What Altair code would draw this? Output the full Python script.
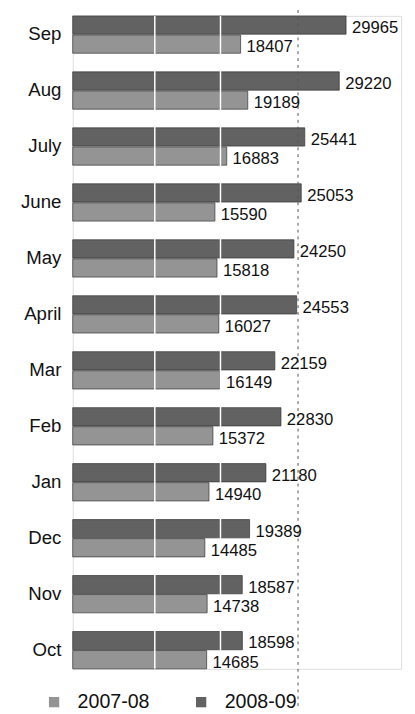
import altair as alt
import pandas as pd

months = ["Sep", "Aug", "July", "June", "May", "April", "Mar", "Feb", "Jan", "Dec", "Nov", "Oct"]
v0708 = [18407, 19189, 16883, 15590, 15818, 16027, 16149, 15372, 14940, 14485, 14738, 14685]
v0809 = [29965, 29220, 25441, 25053, 24250, 24553, 22159, 22830, 21180, 19389, 18587, 18598]
series = ["2007-08", "2008-09"]
white_grid = [9000, 16200]
dash_grid = [24700]

rows = []
for m, a, b in zip(months, v0708, v0809):
    rows.append({"month": m, "series": series[0], "value": a})
    rows.append({"month": m, "series": series[1], "value": b})
df = pd.DataFrame(rows)

FONT = "Liberation Sans"
H = 666

y_enc = alt.Y("month:N", sort=months,
              scale=alt.Scale(paddingInner=0.333, paddingOuter=0),
              axis=alt.Axis(title=None, domain=False, ticks=False, labelFontSize=19,
                            labelPadding=12, labelColor="#111", labelFont=FONT))
yoff = alt.YOffset("series:N", sort=["2008-09", "2007-08"],
                   scale=alt.Scale(paddingInner=0.04, paddingOuter=0))
x_enc = alt.X("value:Q", scale=alt.Scale(domain=[0, 36000]), axis=None)

base = alt.Chart(df)
bars = base.mark_bar(stroke="#333", strokeWidth=0.7).encode(
    y=y_enc, yOffset=yoff, x=x_enc,
    color=alt.Color("series:N",
                    scale=alt.Scale(domain=series, range=["#949494", "#626262"]),
                    legend=alt.Legend(title=None, orient="none", legendX=-29, legendY=690,
                                      direction="horizontal", symbolType="square",
                                      symbolSize=110, symbolStrokeWidth=0,
                                      labelFontSize=20, labelFont=FONT, labelColor="#111",
                                      labelOffset=14, columnPadding=42)),
)
labels = base.mark_text(align="left", baseline="middle", dx=6, dy=3,
                        fontSize=17, font=FONT, color="#111").encode(
    y=y_enc, yOffset=yoff, x=x_enc, text=alt.Text("value:Q", format="d"))

wg = alt.Chart(pd.DataFrame({"g": white_grid})).mark_rule(color="white", strokeWidth=1.5).encode(
    x=alt.X("g:Q", scale=alt.Scale(domain=[0, 36000]), axis=None))
dg = alt.Chart(pd.DataFrame({"g": dash_grid})).mark_rule(
    color="#555", strokeWidth=1, strokeDash=[3, 4]).encode(
    x=alt.X("g:Q", scale=alt.Scale(domain=[0, 36000]), axis=None),
    y=alt.value(-6), y2=alt.value(H + 42))

chart = alt.layer(bars, wg, dg, labels).properties(
    width=335, height=H,
    padding={"left": 66, "top": 1, "right": 6, "bottom": 38},
    autosize=alt.AutoSizeParams(type="none"),
).configure_view(stroke=None).configure(background="white")

chart.save("out.html", embed_options={"renderer": "svg", "actions": False})
